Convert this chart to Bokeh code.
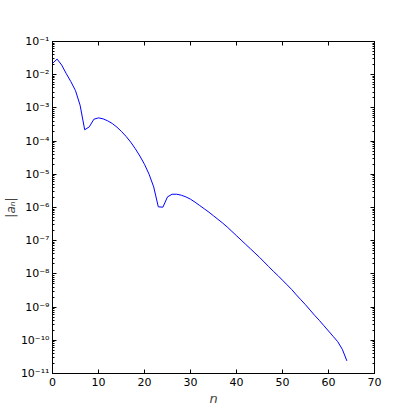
from bokeh.plotting import figure
from bokeh.models import LinearAxis, LogAxis, FixedTicker, CustomLabelingPolicy
from bokeh.embed import file_html
from bokeh.resources import INLINE

# data: n and log10(|a_n|)
n = list(range(65))
log_an = [-1.66, -1.53, -1.71, -1.97, -2.21, -2.48, -2.92, -3.66, -3.57, -3.34,
          -3.30, -3.33, -3.39, -3.47, -3.58, -3.71, -3.86, -4.03, -4.23, -4.45,
          -4.70, -5.00, -5.38, -5.98, -5.99, -5.68, -5.60, -5.60, -5.63, -5.68,
          -5.75, -5.84, -5.94, -6.04, -6.14, -6.25, -6.36, -6.47, -6.59, -6.72,
          -6.85, -6.98, -7.11, -7.24, -7.37, -7.50, -7.64, -7.78, -7.92, -8.05,
          -8.19, -8.33, -8.47, -8.63, -8.78, -8.93, -9.09, -9.25, -9.40, -9.56,
          -9.72, -9.88, -10.04, -10.27, -10.62]
an = [10.0 ** v for v in log_an]

x_ticks = [0, 10, 20, 30, 40, 50, 60, 70]
y_exponents = [-11, -10, -9, -8, -7, -6, -5, -4, -3, -2, -1]
y_tick_labels = ["10\u207b\u00b9\u00b9", "10\u207b\u00b9\u2070", "10\u207b\u2079", "10\u207b\u2078",
                 "10\u207b\u2077", "10\u207b\u2076", "10\u207b\u2075", "10\u207b\u2074",
                 "10\u207b\u00b3", "10\u207b\u00b2", "10\u207b\u00b9"]

y_ticks = [10.0 ** e for e in y_exponents]
y_minor = [m * 10.0 ** e for e in y_exponents[:-1] for m in range(2, 10)]
overrides = {t: lab for t, lab in zip(y_ticks, y_tick_labels)}

FONT = "DejaVu Sans"

p = figure(frame_width=322, frame_height=332, x_range=(0, 70), y_range=(1e-11, 1e-1),
           y_axis_type="log", output_backend="svg", toolbar_location=None,
           min_border_left=52, min_border_top=41, min_border_right=14, min_border_bottom=20)
p.xgrid.visible = False
p.ygrid.visible = False
p.outline_line_color = "black"
p.outline_line_width = 1
p.background_fill_color = "white"
p.border_fill_color = "white"

p.line(n, an, line_color="#0000ff", line_width=1)

no_labels = CustomLabelingPolicy(code="""
const all = [...indices];
for (const i of all) indices.unset(i);
return indices;
""")


def style(ax, labels=True):
    ax.axis_line_color = "black"
    ax.major_tick_in = 4
    ax.major_tick_out = 0
    ax.minor_tick_in = 2
    ax.minor_tick_out = 0
    ax.major_tick_line_color = "black"
    ax.minor_tick_line_color = "black"
    ax.major_label_text_font = FONT
    ax.major_label_text_font_size = "11px"
    ax.major_label_text_color = "black"
    ax.major_label_standoff = 4
    if not labels:
        ax.major_label_policy = no_labels
        ax.major_label_standoff = 0


xa = p.xaxis[0]
xa.ticker = FixedTicker(ticks=x_ticks)
style(xa)
xa.axis_label = "n"
xa.axis_label_text_font = FONT
xa.axis_label_text_font_style = "italic"
xa.axis_label_text_font_size = "13px"
xa.axis_label_standoff = 2

ya = p.yaxis[0]
ya.ticker = FixedTicker(ticks=y_ticks, minor_ticks=y_minor)
style(ya)
ya.major_label_standoff = 3
ya.major_label_overrides = overrides
ya.axis_label = "|a\u2099|"
ya.axis_label_text_font = FONT
ya.axis_label_text_font_style = "italic"
ya.axis_label_text_font_size = "12px"
ya.axis_label_standoff = 0

top = LinearAxis(ticker=FixedTicker(ticks=x_ticks))
style(top, labels=False)
p.add_layout(top, "above")

right = LogAxis(ticker=FixedTicker(ticks=y_ticks, minor_ticks=y_minor))
style(right, labels=False)
p.add_layout(right, "right")

open("out.html", "w").write(file_html(p, INLINE))
